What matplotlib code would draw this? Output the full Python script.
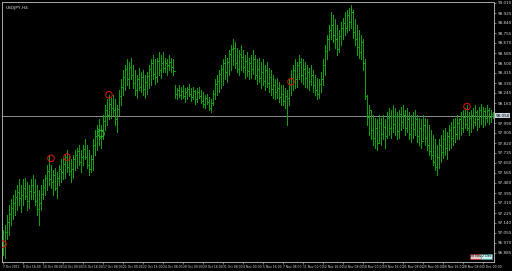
import matplotlib
matplotlib.use("Agg")
import matplotlib.pyplot as plt
from matplotlib.collections import LineCollection

symbol_title = "USDJPY,H4"

highs = [
    97.08, 97.12, 97.21, 97.29, 97.34,
    97.38, 97.42, 97.46, 97.51, 97.46,
    97.51, 97.52, 97.49, 97.46, 97.51,
    97.55, 97.51, 97.46, 97.42, 97.46,
    97.51, 97.55, 97.63, 97.72, 97.63,
    97.59, 97.61, 97.57, 97.63, 97.68,
    97.69, 97.72, 97.76, 97.72, 97.68,
    97.72, 97.76, 97.78, 97.80, 97.76,
    97.80, 97.85, 97.80, 97.76, 97.72,
    97.85, 97.93, 97.97, 98.02, 97.97,
    98.06, 98.14, 98.19, 98.23, 98.20,
    98.23, 98.19, 98.14, 98.27, 98.36,
    98.44, 98.48, 98.53, 98.51, 98.54,
    98.48, 98.44, 98.40, 98.46, 98.42,
    98.44, 98.40, 98.42, 98.48, 98.53,
    98.57, 98.53, 98.54, 98.59, 98.57,
    98.59, 98.54, 98.53, 98.57, 98.54,
    98.53, 98.31, 98.29, 98.31, 98.30,
    98.31, 98.29, 98.30, 98.32, 98.29,
    98.30, 98.27, 98.29, 98.30, 98.27,
    98.25, 98.23, 98.24, 98.21, 98.19,
    98.27, 98.36, 98.40, 98.44, 98.48,
    98.53, 98.57, 98.54, 98.61, 98.65,
    98.70, 98.68, 98.63, 98.61, 98.65,
    98.61, 98.57, 98.59, 98.54, 98.57,
    98.61, 98.57, 98.53, 98.54, 98.51,
    98.53, 98.48, 98.51, 98.46, 98.44,
    98.40, 98.36, 98.37, 98.34, 98.31,
    98.31, 98.29, 98.27, 98.36, 98.44,
    98.48, 98.53, 98.51, 98.57, 98.54,
    98.53, 98.51, 98.48, 98.46, 98.48,
    98.44, 98.40, 98.37, 98.36, 98.42,
    98.53, 98.65, 98.74, 98.82, 98.93,
    98.91, 98.87, 98.82, 98.78, 98.85,
    98.88, 98.93, 98.95, 98.97, 98.99,
    98.95, 98.87, 98.82, 98.78, 98.74,
    98.70, 98.53, 98.23, 98.14, 98.10,
    98.06, 98.03, 98.02, 98.06, 98.03,
    98.06, 98.02, 98.08, 98.12, 98.10,
    98.14, 98.12, 98.08, 98.10, 98.13,
    98.14, 98.10, 98.12, 98.08, 98.06,
    98.08, 98.10, 98.06, 98.03, 98.02,
    98.06, 98.03, 98.02, 97.97, 97.93,
    97.89, 97.85, 97.80, 97.85, 97.89,
    97.93, 97.95, 97.91, 97.97, 98.00,
    98.02, 98.03, 98.06, 98.03, 98.08,
    98.10, 98.12, 98.14, 98.08, 98.10,
    98.12, 98.14, 98.10, 98.13, 98.15,
    98.13, 98.12, 98.14, 98.12, 98.10, 98.08,
]

lows = [
    96.87, 96.84, 97.00, 97.04, 97.12,
    97.17, 97.21, 97.25, 97.29, 97.23,
    97.29, 97.34, 97.25, 97.27, 97.34,
    97.34, 97.29, 97.21, 97.12, 97.25,
    97.34, 97.38, 97.42, 97.46, 97.44,
    97.38, 97.42, 97.35, 97.46, 97.49,
    97.51, 97.52, 97.57, 97.55, 97.49,
    97.52, 97.59, 97.61, 97.63, 97.57,
    97.63, 97.68, 97.61, 97.55, 97.57,
    97.59, 97.72, 97.76, 97.80, 97.78,
    97.85, 97.93, 97.97, 98.02, 98.03,
    98.06, 97.97, 97.91, 98.06, 98.14,
    98.23, 98.27, 98.31, 98.29, 98.36,
    98.29, 98.23, 98.20, 98.27, 98.25,
    98.23, 98.20, 98.24, 98.29, 98.31,
    98.36, 98.32, 98.34, 98.40, 98.37,
    98.42, 98.42, 98.40, 98.44, 98.42,
    98.40, 98.20, 98.19, 98.21, 98.19,
    98.20, 98.17, 98.19, 98.22, 98.18,
    98.19, 98.15, 98.17, 98.20, 98.16,
    98.13, 98.12, 98.15, 98.10, 98.08,
    98.14, 98.19, 98.23, 98.25, 98.29,
    98.31, 98.36, 98.34, 98.40, 98.44,
    98.48, 98.46, 98.42, 98.40, 98.44,
    98.42, 98.37, 98.39, 98.36, 98.37,
    98.41, 98.36, 98.32, 98.34, 98.29,
    98.31, 98.27, 98.30, 98.25, 98.23,
    98.20, 98.19, 98.20, 98.17, 98.14,
    98.14, 98.12, 97.97, 98.14, 98.23,
    98.27, 98.29, 98.30, 98.36, 98.34,
    98.32, 98.30, 98.29, 98.27, 98.31,
    98.25, 98.23, 98.19, 98.20, 98.25,
    98.31, 98.40, 98.53, 98.61, 98.70,
    98.68, 98.63, 98.57, 98.59, 98.65,
    98.70, 98.74, 98.76, 98.78, 98.80,
    98.71, 98.65, 98.57, 98.54, 98.53,
    98.44, 98.19, 97.97, 97.89, 97.85,
    97.80, 97.78, 97.76, 97.83, 97.80,
    97.85, 97.78, 97.86, 97.89, 97.86,
    97.91, 97.89, 97.85, 97.86, 97.93,
    97.95, 97.89, 97.91, 97.85, 97.83,
    97.86, 97.89, 97.83, 97.80, 97.78,
    97.85, 97.80, 97.76, 97.72, 97.68,
    97.63, 97.59, 97.55, 97.61, 97.66,
    97.69, 97.72, 97.68, 97.76, 97.78,
    97.80, 97.83, 97.85, 97.85, 97.89,
    97.91, 97.95, 97.93, 97.89, 97.91,
    97.95, 97.97, 97.93, 97.96, 97.98,
    97.96, 97.97, 98.00, 97.98, 98.00, 98.03,
]

closes = [
    96.95, 97.06, 97.15, 97.22, 97.27,
    97.31, 97.36, 97.40, 97.35, 97.38,
    97.44, 97.37, 97.33, 97.41, 97.46,
    97.40, 97.33, 97.26, 97.31, 97.39,
    97.45, 97.52, 97.58, 97.51, 97.49,
    97.55, 97.44, 97.52, 97.60, 97.57,
    97.64, 97.70, 97.62, 97.58, 97.60,
    97.68, 97.72, 97.75, 97.66, 97.70,
    97.77, 97.70, 97.63, 97.60, 97.68,
    97.80, 97.88, 97.94, 97.86, 97.92,
    98.01, 98.10, 98.06, 98.15, 98.12,
    98.10, 98.02, 98.11, 98.22, 98.30,
    98.38, 98.45, 98.36, 98.47, 98.40,
    98.33, 98.27, 98.36, 98.30, 98.38,
    98.28, 98.34, 98.39, 98.45, 98.50,
    98.41, 98.38, 98.52, 98.44, 98.50,
    98.46, 98.50, 98.48, 98.51, 98.47,
    98.43, 98.24, 98.27, 98.23, 98.26,
    98.22, 98.25, 98.28, 98.24, 98.21,
    98.26, 98.19, 98.25, 98.22, 98.18,
    98.15, 98.20, 98.17, 98.12, 98.16,
    98.24, 98.32, 98.35, 98.41, 98.45,
    98.50, 98.42, 98.51, 98.58, 98.62,
    98.63, 98.50, 98.45, 98.58, 98.55,
    98.47, 98.52, 98.43, 98.50, 98.45,
    98.53, 98.40, 98.45, 98.37, 98.42,
    98.35, 98.44, 98.33, 98.38, 98.28,
    98.31, 98.25, 98.29, 98.21, 98.24,
    98.18, 98.22, 98.20, 98.31, 98.37,
    98.44, 98.36, 98.48, 98.51, 98.40,
    98.45, 98.37, 98.42, 98.35, 98.40,
    98.31, 98.27, 98.24, 98.32, 98.36,
    98.48, 98.60, 98.70, 98.78, 98.82,
    98.74, 98.70, 98.62, 98.73, 98.80,
    98.84, 98.80, 98.91, 98.85, 98.93,
    98.76, 98.70, 98.64, 98.59, 98.68,
    98.50, 98.22, 98.04, 98.10, 97.93,
    97.86, 97.95, 97.82, 97.99, 97.90,
    97.96, 97.88, 98.03, 97.95, 98.05,
    97.98, 98.05, 97.92, 98.07, 98.00,
    98.06, 97.95, 98.02, 97.90, 97.98,
    97.94, 98.02, 97.88, 97.95, 97.84,
    97.97, 97.86, 97.80, 97.75, 97.72,
    97.66, 97.62, 97.70, 97.80, 97.74,
    97.85, 97.78, 97.88, 97.93, 97.86,
    97.96, 97.90, 97.99, 98.02, 97.95,
    98.04, 97.98, 97.95, 98.03, 98.06,
    98.00, 98.08, 98.02, 98.10, 98.05,
    98.09, 98.03, 98.10, 98.04, 98.07, 98.05,
]
first_open = 97.02

# arrow/circle objects (bar index, price)
red_circle_bars = [0, 24, 32, 53, 144, 232]
red_circle_prices = [96.96, 97.69, 97.70, 98.23, 98.34, 98.13]
green_circle_bars = [49]
green_circle_prices = [97.90]

bid_price = 98.05

price_ticks = [99.010, 98.925, 98.840, 98.755, 98.670, 98.585, 98.500, 98.415,
               98.330, 98.245, 98.160, 97.990, 97.905, 97.820, 97.735,
               97.650, 97.565, 97.480, 97.395, 97.310, 97.225, 97.140, 97.055,
               96.970, 96.885]

time_tick_bars = list(range(0, 250, 10))
time_tick_labels = ["7 Oct 2013", "8 Oct 16:00", "10 Oct 08:00", "14 Oct 00:00",
                    "15 Oct 16:00", "17 Oct 08:00", "21 Oct 00:00", "22 Oct 16:00",
                    "24 Oct 08:00", "28 Oct 00:00", "29 Oct 16:00", "31 Oct 08:00",
                    "4 Nov 00:00", "5 Nov 16:00", "7 Nov 08:00", "11 Nov 00:00",
                    "12 Nov 16:00", "14 Nov 08:00", "18 Nov 00:00", "19 Nov 16:00",
                    "21 Nov 08:00", "25 Nov 00:00", "26 Nov 16:00", "28 Nov 08:00",
                    "2 Dec 00:00"]

W, H = 512, 271
fig = plt.figure(figsize=(W / 100, H / 100), dpi=100, facecolor="black")
ax = fig.add_axes([2 / W, 1 - 262 / H, 492 / W, 260 / H], facecolor="black")

n = len(highs)
opens = [first_open] + closes[:n - 1]
bar_green = "#12a012"
segs = [[(i, lows[i]), (i, highs[i])] for i in range(n)]
segs += [[(i - 0.5, opens[i]), (i, opens[i])] for i in range(n)]
segs += [[(i, closes[i]), (i + 0.5, closes[i])] for i in range(n)]
bars = LineCollection(segs, colors=[bar_green] * len(segs), linewidths=0.5,
                      antialiaseds=False, zorder=2)
ax.add_collection(bars)

ax.scatter(red_circle_bars, red_circle_prices, s=22, facecolors="none",
           edgecolors="#d01010", linewidths=0.8, zorder=3)
ax.scatter(green_circle_bars, green_circle_prices, s=22, facecolors="none",
           edgecolors="#20c020", linewidths=0.8, zorder=3)

ax.axhline(bid_price, color="#8a8f96", linewidth=0.7, zorder=1)

ax.set_xlim(-0.5, 245.5)
ax.set_ylim(96.8085, 99.0185)

frame_col = "#a8a8a8"
for s in ax.spines.values():
    s.set_color(frame_col)
    s.set_linewidth(0.7)

ax.yaxis.tick_right()
ax.set_yticks(price_ticks)
ax.set_yticklabels([f"{p:.3f}" for p in price_ticks])
ax.tick_params(axis="y", colors=frame_col, labelcolor="#d8d8d8", labelsize=3.0,
               length=1.5, width=0.5, pad=1.0, direction="out")

ax.set_xticks(time_tick_bars[:len(time_tick_labels)])
ax.set_xticklabels(time_tick_labels, ha="left")
ax.tick_params(axis="x", colors=frame_col, labelcolor="#d8d8d8", labelsize=2.2,
               length=1.5, width=0.5, pad=0.8, direction="out")

# bid label on price axis
ax.text(1.003, bid_price, f"{bid_price:.3f}", transform=ax.get_yaxis_transform(),
        fontsize=3.0, color="black", va="center", ha="left",
        bbox=dict(boxstyle="square,pad=0.12", fc="#c8d4e0", ec="none"))

# title
ax.text(0.008, 0.975, symbol_title, transform=ax.transAxes, fontsize=3.2,
        color="#d8d8d8", va="center", ha="left")

# small boxes at bottom right
ax.text(0.951, 0.014, "28 Nov", transform=ax.transAxes, fontsize=2.3,
        color="black", va="bottom", ha="left",
        bbox=dict(boxstyle="square,pad=0.12", fc="#e8c8c8", ec="#c02020", lw=0.4))
ax.text(0.975, 0.014, "2 Dec", transform=ax.transAxes, fontsize=2.3,
        color="black", va="bottom", ha="left",
        bbox=dict(boxstyle="square,pad=0.12", fc="#c8f0f0", ec="#20a0a0", lw=0.4))

fig.savefig("out.png", dpi=100, facecolor="black")
